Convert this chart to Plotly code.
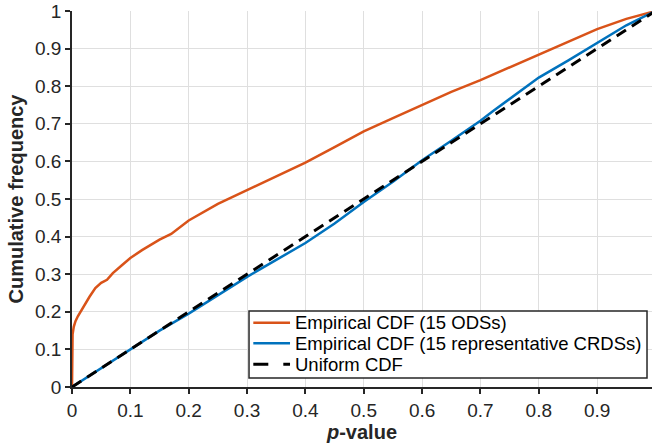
import plotly.graph_objects as go

# Empirical CDF of p-values for 15 ODSs (orange)
ods_p = [0.0, 0.0005, 0.001, 0.003, 0.006, 0.01, 0.015, 0.02, 0.03, 0.04, 0.05, 0.06,
         0.07, 0.085, 0.1, 0.12, 0.15, 0.17, 0.2, 0.25, 0.3, 0.35, 0.4, 0.45, 0.5,
         0.55, 0.6, 0.65, 0.7, 0.75, 0.8, 0.85, 0.9, 0.95, 1.0]
ods_cdf = [0.0, 0.10, 0.14, 0.16, 0.175, 0.188, 0.202, 0.214, 0.24, 0.263, 0.277, 0.285,
           0.303, 0.323, 0.343, 0.364, 0.392, 0.407, 0.443, 0.487, 0.524, 0.562, 0.597, 0.638, 0.68,
           0.715, 0.75, 0.785, 0.816, 0.85, 0.883, 0.918, 0.952, 0.979, 1.0]

# Empirical CDF of p-values for 15 representative CRDSs (blue)
crds_p = [0.0, 0.02, 0.05, 0.1, 0.15, 0.2, 0.25, 0.3, 0.35, 0.4, 0.45, 0.5, 0.55,
          0.6, 0.65, 0.7, 0.72, 0.75, 0.8, 0.85, 0.9, 0.95, 1.0]
crds_cdf = [0.0, 0.02, 0.052, 0.1, 0.15, 0.195, 0.245, 0.293, 0.338, 0.383, 0.435, 0.492, 0.546,
            0.603, 0.655, 0.708, 0.732, 0.766, 0.823, 0.868, 0.916, 0.962, 1.0]

# Uniform CDF (black dashed)
unif_p = [0.0, 1.0]
unif_cdf = [0.0, 1.0]

series_names = ["Empirical CDF (15 ODSs)",
                "Empirical CDF (15 representative CRDSs)",
                "Uniform CDF"]

x_ticks = [0, 0.1, 0.2, 0.3, 0.4, 0.5, 0.6, 0.7, 0.8, 0.9]
x_tick_labels = ["0", "0.1", "0.2", "0.3", "0.4", "0.5", "0.6", "0.7", "0.8", "0.9"]
y_ticks = [0, 0.1, 0.2, 0.3, 0.4, 0.5, 0.6, 0.7, 0.8, 0.9, 1.0]
y_tick_labels = ["0", "0.1", "0.2", "0.3", "0.4", "0.5", "0.6", "0.7", "0.8", "0.9", "1"]

FONT = "Liberation Sans, Arial, Helvetica, sans-serif"
AX = "#262626"
styles = [dict(color="#D95319", width=2.5),
          dict(color="#0072BD", width=2.5),
          dict(color="black", width=3, dash="11px,7px")]

fig = go.Figure()
for xs, ys, name, st in zip([ods_p, crds_p, unif_p], [ods_cdf, crds_cdf, unif_cdf],
                            series_names, styles):
    fig.add_trace(go.Scatter(x=xs, y=ys, mode="lines", name=name, line=st,
                             showlegend=False))

# Compact MATLAB-style legend box (paper coordinates of the plot area)
shapes = [dict(type="rect", xref="paper", yref="paper", x0=0.3052, x1=0.9914,
               y0=0.0239, y1=0.2021, fillcolor="white",
               line=dict(color=AX, width=1.5), layer="above")]
annotations = []
row_y = [0.171, 0.1162, 0.0604]
legend_dash = [None, None, "15px,15px"]
for yy, name, st, dsh in zip(row_y, series_names, styles, legend_dash):
    ln = dict(color=st["color"], width=st["width"])
    if dsh:
        ln["dash"] = dsh
    shapes.append(dict(type="line", xref="paper", yref="paper", x0=0.3126, x1=0.3759,
                       y0=yy, y1=yy, line=ln, layer="above"))
    annotations.append(dict(xref="paper", yref="paper", x=0.3815, y=yy, text=name,
                            showarrow=False, xanchor="left", yanchor="middle",
                            font=dict(family=FONT, size=18.5, color="black")))

fig.update_layout(
    width=652, height=446,
    margin=dict(l=72, r=0, t=11, b=59),
    paper_bgcolor="white", plot_bgcolor="white",
    font=dict(family=FONT, size=19, color=AX),
    showlegend=False,
    shapes=shapes, annotations=annotations,
)
fig.update_xaxes(range=[0, 0.994], tickvals=x_ticks, ticktext=x_tick_labels,
                 tickfont=dict(size=19, color=AX),
                 showgrid=True, gridcolor="#dfdfdf", gridwidth=1,
                 showline=True, linecolor=AX, linewidth=1.5,
                 ticks="outside", ticklen=5, tickwidth=1.5, tickcolor=AX,
                 zeroline=False, automargin=False,
                 title=dict(text="<b><i>p</i>-value</b>", font=dict(size=20, color=AX), standoff=4))
fig.update_yaxes(range=[0, 1], tickvals=y_ticks, ticktext=y_tick_labels,
                 tickfont=dict(size=19, color=AX),
                 showgrid=True, gridcolor="#dfdfdf", gridwidth=1,
                 showline=True, linecolor=AX, linewidth=1.5,
                 ticks="outside", ticklen=5, tickwidth=1.5, tickcolor=AX,
                 zeroline=False, automargin=False,
                 title=dict(text="<b>Cumulative frequency</b>", font=dict(size=20, color=AX), standoff=6))

fig.write_html("out.html", config={"displayModeBar": False},
               post_script="document.body.style.margin='0';document.body.style.overflow='hidden';")
